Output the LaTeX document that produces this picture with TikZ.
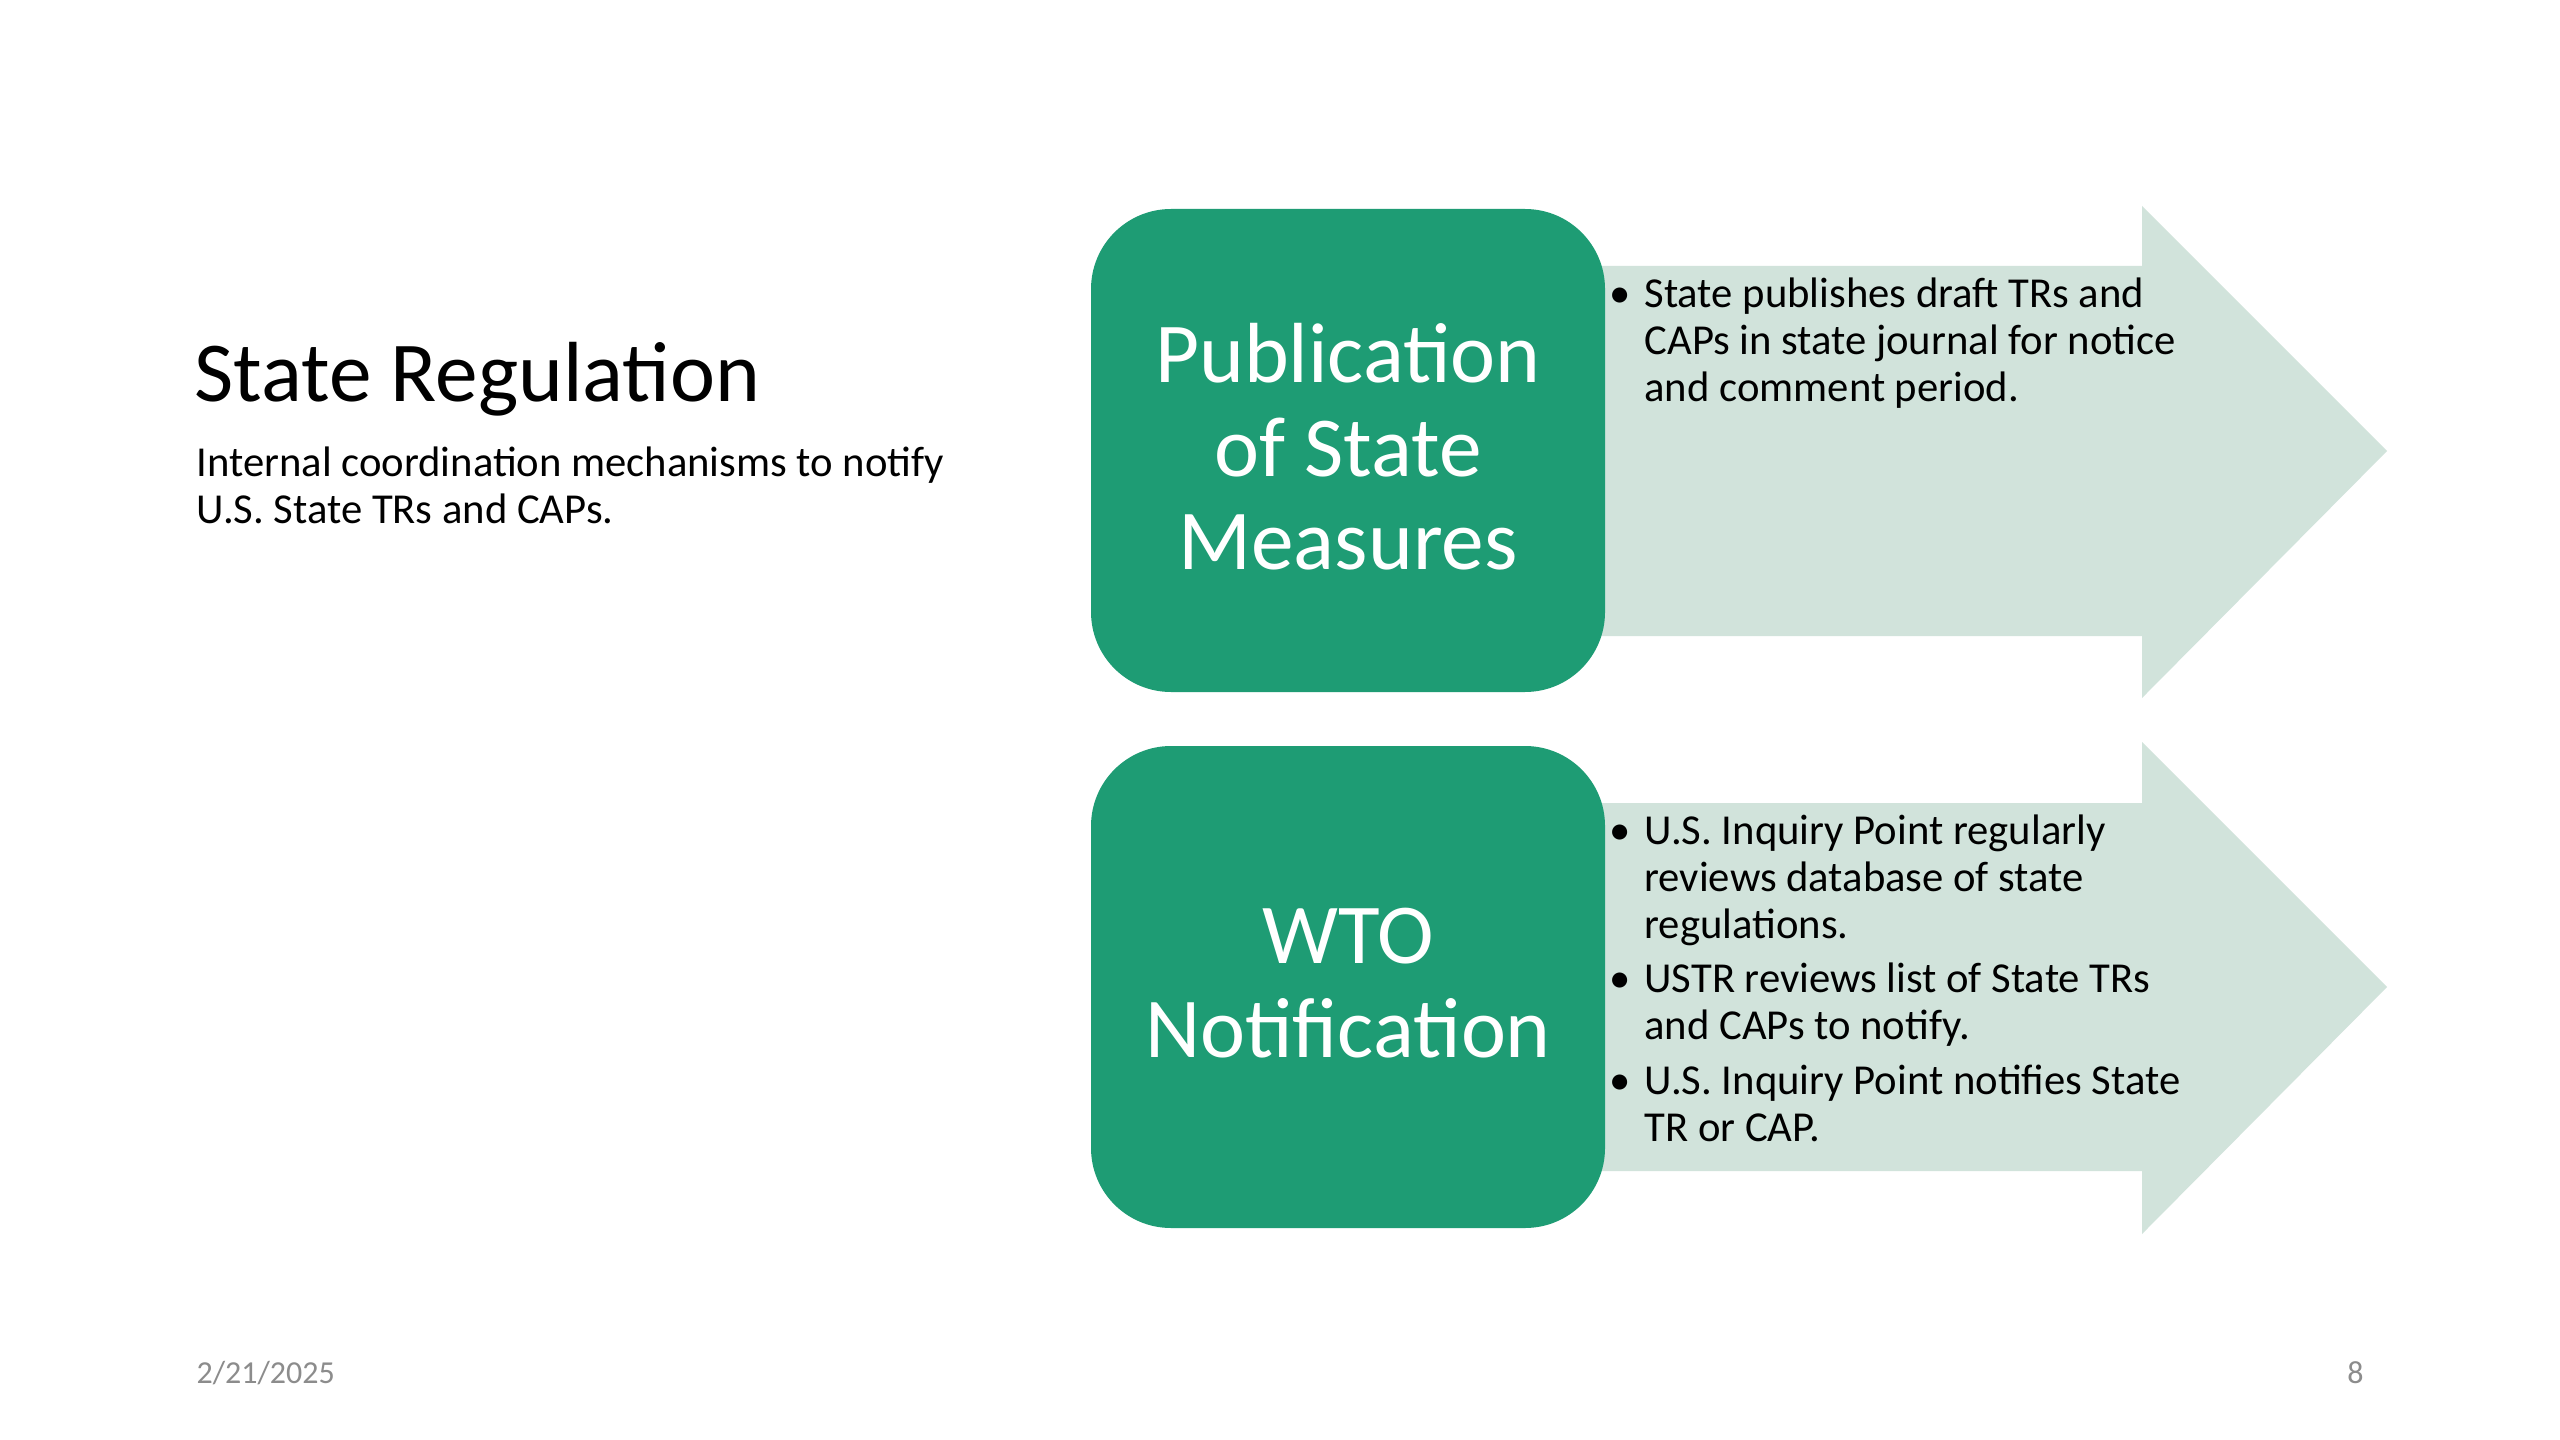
\documentclass[tikz,border=0pt]{standalone}
\usepackage{fontspec}
\setmainfont{Carlito}
\definecolor{boxgreen}{HTML}{1E9C74}
\definecolor{arrowfill}{HTML}{D1E3DB}
\definecolor{footgray}{HTML}{8C8C8C}
\begin{document}
\begin{tikzpicture}[x=0.375pt,y=-0.375pt,
  stagebox/.style={fill=boxgreen,rounded corners=30pt},
  bigarrow/.style={fill=arrowfill},
  boxtext/.style={text=white,align=center,font=\fontsize{32}{35.1}\selectfont,inner sep=0pt},
  bline/.style={anchor=base west,inner sep=0pt,font=\fontsize{16}{17.6}\selectfont},
  bdot/.style={anchor=base west,inner sep=0pt,font=\fontsize{16}{17.6}\selectfont}]
\useasboundingbox[fill=white] (0,0) rectangle (2560,1440);

% top arrow and box
\fill[bigarrow] (1348,266) -- (2142,266) -- (2142,206) -- (2387,451) -- (2142,698) -- (2142,636) -- (1348,636) -- cycle;
\fill[stagebox] (1091,209) rectangle (1605,692);
\node[boxtext] (pub) at (1348,447) {Publication\\of State\\Measures};

% bottom arrow and box
\fill[bigarrow] (1348,803) -- (2142,803) -- (2142,742) -- (2387,987) -- (2142,1234) -- (2142,1171) -- (1348,1171) -- cycle;
\fill[stagebox] (1091,746) rectangle (1605,1228);
\node[boxtext] (wto) at (1348,983) {WTO\\Notification};

% title
\node[anchor=base west,inner sep=0pt,font=\fontsize{32}{35}\selectfont] (title) at (194,402) {State Regulation};
\node[anchor=base west,inner sep=0pt,font=\fontsize{16}{17.6}\selectfont] (sub1) at (196,477) {Internal coordination mechanisms to notify};
\node[anchor=base west,inner sep=0pt,font=\fontsize{16}{17.6}\selectfont] (sub2) at (196,523) {U.S. State TRs and CAPs.};

% top bullets
\node[bdot] (d1) at (1609,308) {•};
\node[bline] (t1a) at (1644,308) {State publishes draft TRs and};
\node[bline] (t1b) at (1644,355) {CAPs in state journal for notice};
\node[bline] (t1c) at (1644,402) {and comment period.};

% bottom bullets
\node[bdot] (d2) at (1609,844) {•};
\node[bline] (t2a) at (1644,844) {U.S. Inquiry Point regularly};
\node[bline] (t2b) at (1644,891) {reviews database of state};
\node[bline] (t2c) at (1644,938) {regulations.};
\node[bdot] (d3) at (1609,992) {•};
\node[bline] (t3a) at (1644,992) {USTR reviews list of State TRs};
\node[bline] (t3b) at (1644,1039) {and CAPs to notify.};
\node[bdot] (d4) at (1609,1094) {•};
\node[bline] (t4a) at (1644,1094) {U.S. Inquiry Point notifies State};
\node[bline] (t4b) at (1644,1141) {TR or CAP.};

% footer
\node[anchor=base west,inner sep=0pt,text=footgray,font=\fontsize{12}{14}\selectfont] (date) at (196,1383) {2/21/2025};
\node[anchor=base east,inner sep=0pt,text=footgray,font=\fontsize{12}{14}\selectfont] (page) at (2364,1383) {8};
\end{tikzpicture}
\end{document}
